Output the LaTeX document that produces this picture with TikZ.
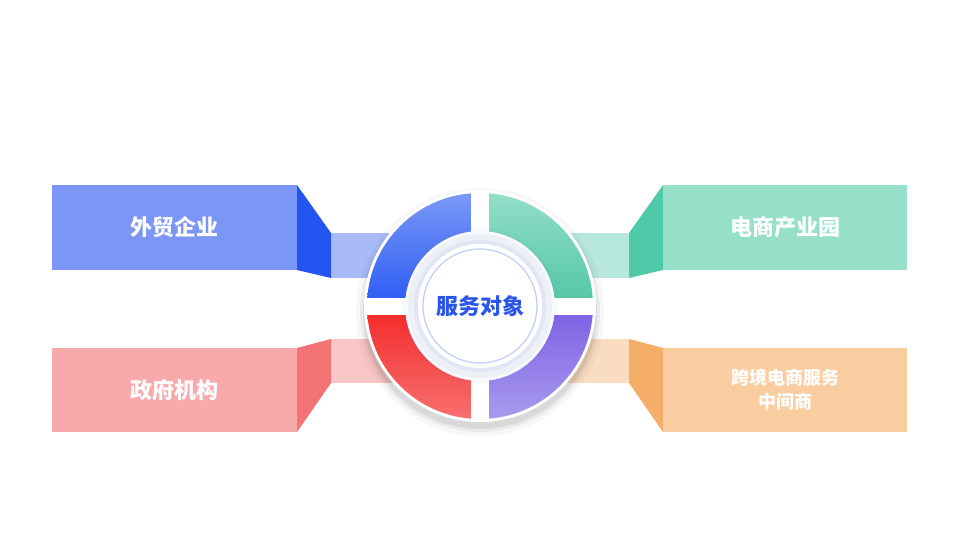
\documentclass[tikz,border=0pt]{standalone}
\usepackage{fontspec}
\newfontfamily\cjk{Noto Sans CJK SC}
\definecolor{bB}{HTML}{7B96F5}\definecolor{bD}{HTML}{2355F0}\definecolor{bL}{HTML}{A8BAF8}
\definecolor{gB}{HTML}{96E0CA}\definecolor{gD}{HTML}{4FC9A8}\definecolor{gL}{HTML}{B8E8DB}
\definecolor{rB}{HTML}{F8A9AB}\definecolor{rD}{HTML}{F47375}\definecolor{rL}{HTML}{F9C6C7}
\definecolor{oB}{HTML}{F9CDA0}\definecolor{oD}{HTML}{F5AE68}\definecolor{oL}{HTML}{FADDC0}
\definecolor{q1a}{HTML}{7A98F7}\definecolor{q1b}{HTML}{2A5BF3}
\definecolor{q2a}{HTML}{93DEC8}\definecolor{q2b}{HTML}{50C6A5}
\definecolor{q3a}{HTML}{F42828}\definecolor{q3b}{HTML}{F87070}
\definecolor{q4a}{HTML}{7A5FE3}\definecolor{q4b}{HTML}{A99AEE}
\definecolor{ctext}{HTML}{2A55E8}
\definecolor{glow}{HTML}{5A6EC8}\definecolor{cring}{HTML}{BECDFA}
\tikzset{lbl/.style={text=white,font=\cjk\bfseries\fontsize{22}{26}\selectfont,align=center},
lbls/.style={text=white,font=\cjk\bfseries\fontsize{18}{24}\selectfont,align=center}}
\begin{document}
\begin{tikzpicture}[x=1pt,y=-1pt]
\useasboundingbox (0,0) rectangle (960,540);
\fill[white] (0,0) rectangle (960,540);
% bands
\fill[bL] (331,233) rectangle (400,278);
\fill[rL] (331,339) rectangle (400,383);
\fill[gL] (560,233) rectangle (629,278);
\fill[oL] (560,339) rectangle (629,383);
% left blue
\fill[bD] (297,185) -- (331,233) -- (331,278) -- (297,270) -- cycle;
\fill[bB] (52,185) rectangle (297,270);
\node[lbl] (t1) at (174.5,227.5) {外贸企业};
% left red
\fill[rD] (297,348) -- (331,339) -- (331,383) -- (297,432) -- cycle;
\fill[rB] (52,348) rectangle (297,432);
\node[lbl] (t3) at (174.5,390) {政府机构};
% right green
\fill[gD] (663,185) -- (629,233) -- (629,278) -- (663,270) -- cycle;
\fill[gB] (663,185) rectangle (907,270);
\node[lbl] (t2) at (785,227.5) {电商产业园};
% right orange
\fill[oD] (663,348) -- (629,339) -- (629,383) -- (663,432) -- cycle;
\fill[oB] (663,348) rectangle (907,432);
\node[lbls] (t4) at (785,390) {跨境电商服务\\中间商};
% ring shadows
\foreach \r/\o in {124/0.03,120/0.05,117/0.07}{\fill[black,opacity=\o] (480,312) circle (\r);}
\fill[white] (480,306) circle (116);
% quadrants
\shade[top color=q1a, bottom color=q1b] (367,306) arc[start angle=180,end angle=270,radius=113] -- (480,231) arc[start angle=270,end angle=180,radius=75] -- cycle;
\shade[top color=q2a, bottom color=q2b] (480,193) arc[start angle=270,end angle=360,radius=113] -- (555,306) arc[start angle=360,end angle=270,radius=75] -- cycle;
\shade[top color=q3a, bottom color=q3b] (367,306) arc[start angle=180,end angle=90,radius=113] -- (480,381) arc[start angle=90,end angle=180,radius=75] -- cycle;
\shade[top color=q4a, bottom color=q4b] (593,306) arc[start angle=0,end angle=90,radius=113] -- (480,381) arc[start angle=90,end angle=0,radius=75] -- cycle;
% gaps
\fill[white] (471,190) rectangle (489,422);
\fill[white] (364,298) rectangle (596,315);
% center
\foreach \r/\o in {78/0.04,72/0.06,66/0.08}{\fill[glow,opacity=\o] (480,306) circle (\r);}
\fill[white] (480,306) circle (62);
\draw[cring,line width=1.2] (480,306) circle (57);
\node[text=ctext,font=\cjk\bfseries\fontsize{22}{26}\selectfont] (c) at (480,306) {服务对象};
\end{tikzpicture}
\end{document}
